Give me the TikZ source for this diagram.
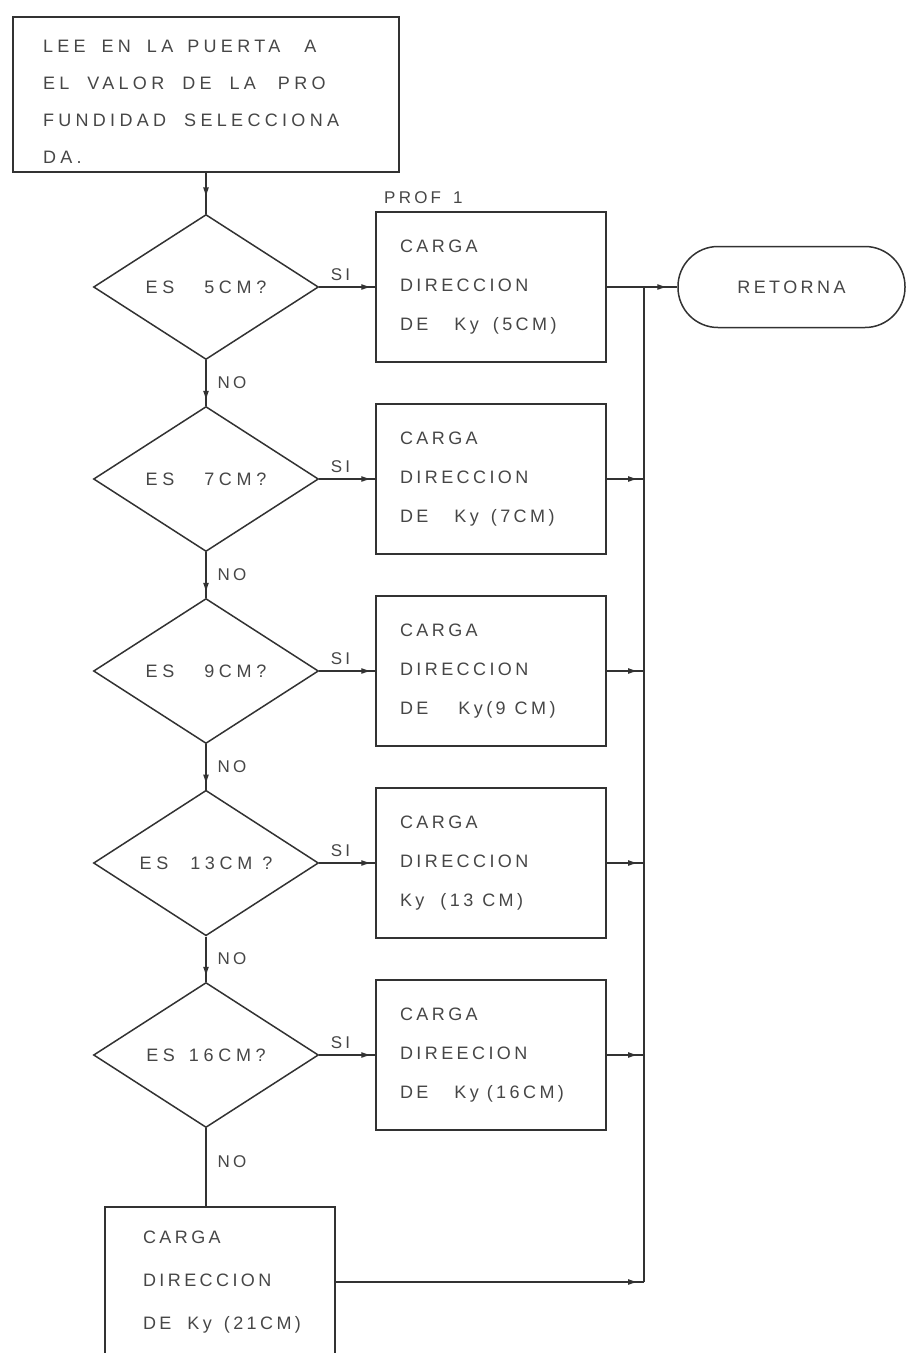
\documentclass[tikz,border=0pt]{standalone}
\usepackage{fontspec}
\setmainfont{Liberation Sans}[LetterSpace=19]
\usetikzlibrary{shapes.geometric,arrows.meta,decorations.markings}
\definecolor{ink}{RGB}{50,50,50}
\definecolor{txtc}{RGB}{70,70,70}
\newcommand{\gap}[1][7pt]{\hspace*{#1}}

\begin{document}
\begin{tikzpicture}[x=1pt,y=-1pt,
  every node/.style={font=\fontsize{18}{39}\selectfont, text=txtc},
  flow/.style={draw=ink, line width=1.5pt},
  procbox/.style={flow, rectangle, minimum height=150pt, inner xsep=24pt,
    inner ysep=0pt, text width=182pt, align=left},
  decide/.style={flow, diamond, minimum width=225pt, minimum height=145pt, inner sep=0pt,
    font=\fontsize{18}{20}\selectfont\addfontfeature{LetterSpace=26}},
  endcap/.style={flow, rectangle, rounded corners=40pt, minimum width=227pt, minimum height=81pt},
  link/.style={draw=ink, line width=1.3pt},
  tipat/.style={postaction={decorate}, decoration={markings,
    mark=at position #1 with {\arrow{Latex[length=10pt,width=6pt]}}}},
  lbl/.style={font=\fontsize{17}{20}\selectfont, inner sep=3pt},
  silbl/.style={lbl, above, pos=0.38, yshift=3pt},
  nolbl/.style={lbl, right, xshift=8pt},
]
\useasboundingbox (0,0) rectangle (906,1353);
\clip (0,0) rectangle (906,1353);

% input step
\node[flow, rectangle, inner xsep=30pt, inner ysep=0pt, text width=326pt,
      minimum height=155pt, align=left,
      font=\fontsize{18}{37}\selectfont\addfontfeature{LetterSpace=24}]
  (read) at (206,94.5)
  {\rule{0pt}{26pt}LEE\gap[16pt]EN\gap[16pt]LA\gap[14pt]PUERTA\gap[24pt]A\\
   EL\gap[18pt]VALOR\gap[18pt]DE\gap[18pt]LA\gap[22pt]PRO\\
   FUNDIDAD\gap[18pt]SELECCIONA\\DA.};

% decisions
\node[decide] (d1) at (206,287)  {ES\gap[30pt]5CM?};
\node[decide] (d2) at (206,479)  {ES\gap[30pt]7CM?};
\node[decide] (d3) at (206,671)  {ES\gap[30pt]9CM?};
\node[decide] (d4) at (206,863)  {ES\gap[22pt]13CM\gap[10pt]?};
\node[decide] (d5) at (206,1055) {ES\gap[14pt]16CM?};

% load steps
\node[procbox] (b1) at (491,287)  {CARGA\\DIRECCION\\DE\gap[26pt]Ky\gap[14pt](5CM)};
\node[procbox] (b2) at (491,479)  {CARGA\\DIRECCION\\DE\gap[26pt]Ky\gap[12pt](7CM)};
\node[procbox] (b3) at (491,671)  {CARGA\\DIRECCION\\DE\gap[30pt]Ky(9\gap[9pt]CM)};
\node[procbox] (b4) at (491,863)  {CARGA\\DIRECCION\\Ky\gap[16pt](13\gap[9pt]CM)};
\node[procbox] (b5) at (491,1055) {CARGA\\DIREECION\\DE\gap[26pt]Ky\gap[8pt](16CM)};
\node[procbox, inner xsep=38pt, text width=154pt, font=\fontsize{18}{43}\selectfont]
  (b6) at (220,1282) {CARGA\\DIRECCION\\DE\gap[16pt]Ky\gap[12pt](21CM)};

\node[lbl, anchor=south west] (prof) at (381,207) {PROF\gap[12pt]1};

% exit
\node[endcap] (ret) at (791.5,287) {RETORNA};

% collecting line
\coordinate (bustop) at (644,287);
\coordinate (busbot) at (644,1282);

% connectors
\draw[link, tipat=0.6] (read.south -| d1.north) -- (d1.north);

\draw[link, tipat=-4pt] (d1.east) -- node[silbl] {SI} (b1.west);
\draw[link, tipat=-4pt] (d2.east) -- node[silbl] {SI} (b2.west);
\draw[link, tipat=-4pt] (d3.east) -- node[silbl] {SI} (b3.west);
\draw[link, tipat=-4pt] (d4.east) -- node[silbl] {SI} (b4.west);
\draw[link, tipat=-4pt] (d5.east) -- node[silbl] {SI} (b5.west);

\draw[link, tipat=-5pt] (d1.south) -- node[nolbl, pos=0.5] {NO} (d2.north);
\draw[link, tipat=-5pt] (d2.south) -- node[nolbl, pos=0.5] {NO} (d3.north);
\draw[link, tipat=-5pt] (d3.south) -- node[nolbl, pos=0.5] {NO} (d4.north);
\draw[link, tipat=-5pt] (d4.south) -- node[nolbl, pos=0.5] {NO} (d5.north);
\draw[link] (d5.south) -- node[nolbl, pos=0.43] {NO} (d5.south |- b6.north);

\draw[link, tipat=-10pt] (b1.east) -- (ret.west);
\draw[link, tipat=-6pt] (b2.east) -- (b2.east -| bustop);
\draw[link, tipat=-6pt] (b3.east) -- (b3.east -| bustop);
\draw[link, tipat=-6pt] (b4.east) -- (b4.east -| bustop);
\draw[link, tipat=-6pt] (b5.east) -- (b5.east -| bustop);
\draw[link, tipat=-6pt] (b6.east) -- (busbot);
\draw[link] (busbot) -- (bustop);
\end{tikzpicture}
\end{document}
